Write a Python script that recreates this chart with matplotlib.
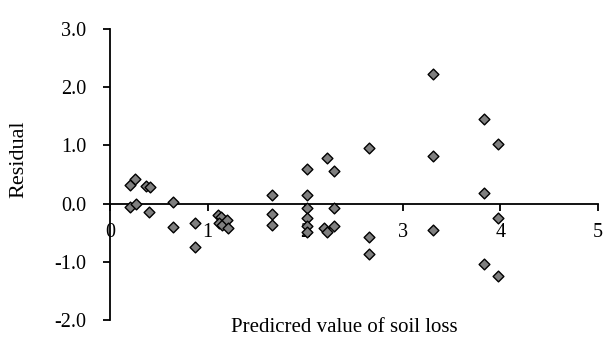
import matplotlib
matplotlib.use("Agg")
from matplotlib import pyplot as plt

# predicted soil loss vs residual
predicted = [0.20, 0.26, 0.37, 0.41, 0.20, 0.27, 0.40, 0.65, 0.65, 0.87, 0.87,
             1.11, 1.14, 1.12, 1.15, 1.20, 1.21,
             1.66, 1.66, 1.66,
             2.02, 2.02, 2.02, 2.02, 2.02, 2.02,
             2.22, 2.30, 2.30, 2.30, 2.19, 2.22,
             2.65, 2.65, 2.65,
             3.31, 3.31, 3.31,
             3.83, 3.83, 3.83,
             3.98, 3.98, 3.98]
residual = [0.32, 0.42, 0.30, 0.29, -0.06, -0.01, -0.14, 0.03, -0.41, -0.33, -0.74,
            -0.19, -0.23, -0.34, -0.37, -0.29, -0.42,
            0.15, -0.18, -0.36,
            0.60, 0.14, -0.08, -0.25, -0.38, -0.49,
            0.79, 0.56, -0.08, -0.38, -0.42, -0.48,
            0.95, -0.57, -0.86,
            2.23, 0.81, -0.45,
            1.46, 0.18, -1.04,
            1.02, -0.25, -1.24]

x_ticks = [0, 1, 2, 3, 4, 5]
y_ticks = [-2.0, -1.0, 0.0, 1.0, 2.0, 3.0]

plt.rcParams['font.family'] = ['Liberation Serif', 'DejaVu Serif']

fig = plt.figure(figsize=(6.06, 3.41), dpi=100)
ax = fig.add_axes([110/606, 1 - 320/341, 488/606, 291/341])

ax.scatter(predicted, residual, marker='D', s=30, facecolor='#7f7f7f',
           edgecolor='black', linewidth=1.0, zorder=3, clip_on=False)

ax.set_xlim(0, 5)
ax.set_ylim(-2, 3)
ax.set_xticks(x_ticks)
ax.set_xticklabels([str(t) for t in x_ticks])
ax.set_yticks(y_ticks)
ax.set_yticklabels(['%.1f' % t for t in y_ticks])

ax.spines['top'].set_visible(False)
ax.spines['right'].set_visible(False)
ax.spines['bottom'].set_position(('data', 0))
ax.spines['left'].set_linewidth(1.3)
ax.spines['bottom'].set_linewidth(1.3)
ax.tick_params(axis='both', direction='out', length=5, width=1.3, labelsize=14.5)
ax.tick_params(axis='y', pad=12)
ax.tick_params(axis='x', pad=9)

fig.text(19/606, 1 - 159/341, 'Residual', fontsize=16, rotation=90,
         ha='center', va='center')
fig.text(344/606, 1 - 328/341, 'Predicred value of soil loss', fontsize=15,
         ha='center', va='center')

fig.savefig('out.png', dpi=100)
